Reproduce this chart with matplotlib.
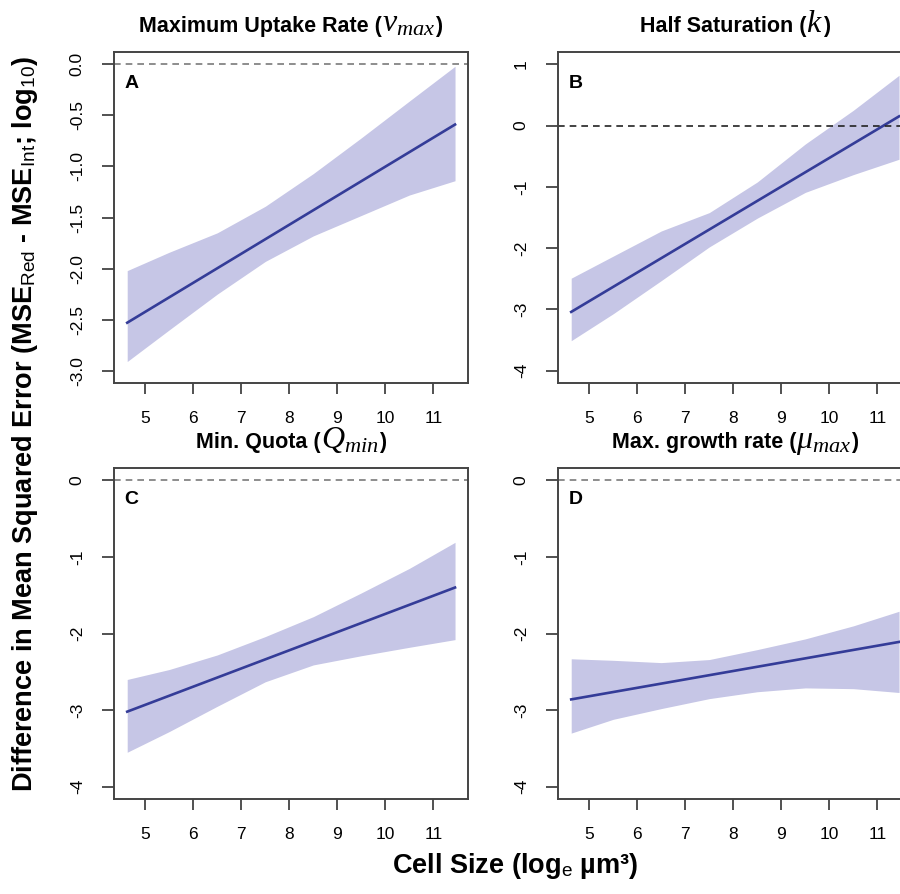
import numpy as np
import matplotlib
matplotlib.use("Agg")
import matplotlib.pyplot as plt

plt.rcParams["font.family"] = ["Liberation Sans", "DejaVu Sans"]
plt.rcParams["axes.unicode_minus"] = False
plt.rcParams["mathtext.fontset"] = "custom"
plt.rcParams["mathtext.it"] = "Liberation Serif:italic"
plt.rcParams["mathtext.rm"] = "Liberation Serif"
plt.rcParams["mathtext.sf"] = "Liberation Sans"
plt.rcParams["mathtext.bf"] = "Liberation Sans:bold"

# --- fitted lines and 95% bands (cell size on log_e scale) ---
x_band = [4.625, 5.5, 6.5, 7.5, 8.5, 9.5, 10.5, 11.45]
x_line = [4.625, 11.45]

vmax_line = [-2.53, -0.59]
vmax_upper = [-2.02, -1.84, -1.65, -1.39, -1.07, -0.72, -0.36, -0.02]
vmax_lower = [-2.91, -2.60, -2.25, -1.93, -1.68, -1.48, -1.28, -1.14]

k_line = [-3.04, 0.15]
k_upper = [-2.49, -2.13, -1.72, -1.42, -0.92, -0.30, 0.25, 0.82]
k_lower = [-3.51, -3.07, -2.53, -1.98, -1.51, -1.09, -0.80, -0.55]

qmin_line = [-3.02, -1.40]
qmin_upper = [-2.60, -2.47, -2.28, -2.04, -1.78, -1.47, -1.15, -0.81]
qmin_lower = [-3.55, -3.28, -2.95, -2.63, -2.41, -2.29, -2.18, -2.08]

mu_line = [-2.86, -2.11]
mu_upper = [-2.33, -2.35, -2.38, -2.34, -2.21, -2.07, -1.90, -1.71]
mu_lower = [-3.30, -3.12, -2.98, -2.85, -2.76, -2.71, -2.72, -2.77]

# titles split into plain text / symbol / closing bracket
title_text = ["Maximum Uptake Rate (", "Half Saturation (", "Min. Quota (", "Max. growth rate ("]
title_sym = ["$v_{max}$", "$k$", "$Q_{min}$", "$\\mu_{max}$"]
letters = ["A", "B", "C", "D"]
x_ticks = [5, 6, 7, 8, 9, 10, 11]
y_ticks = [
    [-3.0, -2.5, -2.0, -1.5, -1.0, -0.5, 0.0],
    [-4, -3, -2, -1, 0, 1],
    [-4, -3, -2, -1, 0],
    [-4, -3, -2, -1, 0],
]
y_ticklabels = [
    ["-3.0", "-2.5", "-2.0", "-1.5", "-1.0", "-0.5", "0.0"],
    ["-4", "-3", "-2", "-1", "0", "1"],
    ["-4", "-3", "-2", "-1", "0"],
    ["-4", "-3", "-2", "-1", "0"],
]
y_limits = [(-3.12, 0.12), (-4.2, 1.2), (-4.16, 0.16), (-4.16, 0.16)]

lines = [vmax_line, k_line, qmin_line, mu_line]
uppers = [vmax_upper, k_upper, qmin_upper, mu_upper]
lowers = [vmax_lower, k_lower, qmin_lower, mu_lower]

W, H = 900, 894
fig = plt.figure(figsize=(W / 100, H / 100), dpi=100)
fig.patch.set_facecolor("white")
renderer = fig.canvas.get_renderer()

# panel boxes in pixels: left, top
boxes = [(114, 52), (558, 52), (114, 468), (558, 468)]
bw, bh = 354, 331

fill_col = "#c6c6e6"
line_col = "#343c98"
zero_cols = ["#7a7a7a", "#222222", "#7a7a7a", "#7a7a7a"]


def place_title(cx, baseline, parts):
    # lay the pieces side by side on one baseline, centred on cx (pixels)
    texts = []
    for s, kw in parts:
        texts.append(fig.text(0, baseline / H, s, va="baseline", ha="left", **kw))
    widths = [t.get_window_extent(renderer).width for t in texts]
    x = cx - sum(widths) / 2
    for t, w in zip(texts, widths):
        t.set_x(x / W)
        x += w


for i, (left, top) in enumerate(boxes):
    ax = fig.add_axes([left / W, 1 - (top + bh) / H, bw / W, bh / H])
    ax.fill_between(x_band, lowers[i], uppers[i], color=fill_col, lw=0)
    ax.plot(x_line, lines[i], color=line_col, lw=1.9)
    ax.axhline(0, color=zero_cols[i], lw=1.2, ls=(0, (4, 3)))

    ax.set_xlim(4.35, 11.72)
    ax.set_ylim(*y_limits[i])
    ax.set_xticks(x_ticks)
    ax.set_xticklabels([str(t) for t in x_ticks], fontsize=12.5)
    ax.set_yticks(y_ticks[i])
    ax.set_yticklabels(y_ticklabels[i], fontsize=12.5, rotation=90, va="center")
    ax.tick_params(axis="x", length=8, width=1.2, color="#333333", pad=12)
    ax.tick_params(axis="y", length=9, width=1.2, color="#333333", pad=12)
    for s in ax.spines.values():
        s.set_color("#444444")
        s.set_linewidth(1.4)

    ax.text(0.03, 0.905, letters[i], transform=ax.transAxes, fontsize=14,
            fontweight="bold", ha="left", va="center")

    place_title(left + bw / 2, H - (top - 20),
                [(title_text[i], dict(fontsize=15.5, fontweight="bold")),
                 (title_sym[i], dict(fontsize=23)),
                 (")", dict(fontsize=15.5, fontweight="bold"))])

fig.text(0.028, 0.526,
         "Difference in Mean Squared Error (MSE$_{\\mathsf{Red}}$ - MSE$_{\\mathsf{Int}}$; log$_{\\mathsf{10}}$)",
         rotation=90, ha="center", va="center", fontsize=19.5, fontweight="bold")
fig.text(0.572, 0.031, "Cell Size (log$_{\\mathsf{e}}$ µm³)",
         ha="center", va="center", fontsize=19.5, fontweight="bold")

fig.savefig("out.png", dpi=100)
